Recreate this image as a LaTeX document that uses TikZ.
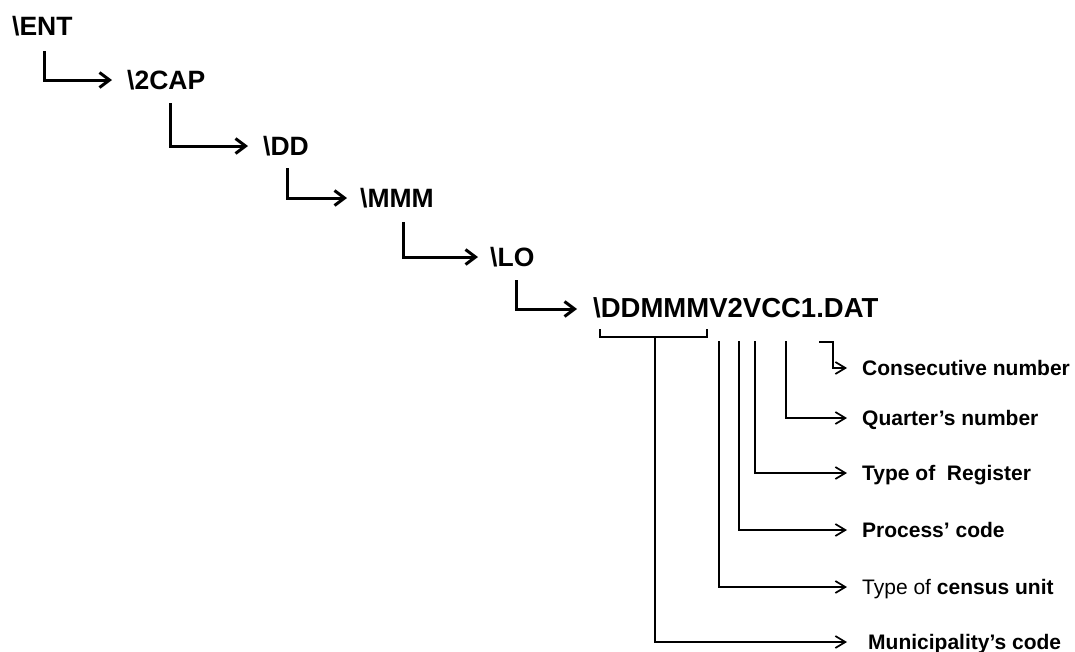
\documentclass[tikz,border=0pt]{standalone}
\usepackage{fontspec}
\setmainfont{Liberation Sans}
\usetikzlibrary{arrows.meta}
\begin{document}
\begin{tikzpicture}[x=1pt,y=-1pt,
  big/.style={font=\fontsize{26.5}{30}\selectfont\bfseries, inner sep=0pt, anchor=base west},
  fname/.style={font=\fontsize{27.5}{30}\selectfont\bfseries, inner sep=0pt, anchor=base west},
  lbl/.style={font=\fontsize{21}{25}\selectfont, inner sep=0pt, anchor=base west},
  toparr/.style={line width=3pt, -{Straight Barb[length=10pt,width=15pt]}},
  botarr/.style={line width=1.7pt, -{Straight Barb[length=10pt,width=12pt]}},
  bline/.style={line width=1.7pt}]
\useasboundingbox (0,0) rectangle (1075,651);
% top hierarchy
\node[big] (ent) at (12,35) {\textbackslash ENT};
\node[big] (cap) at (127,89.5) {\textbackslash 2CAP};
\node[big] (dd) at (263,155.5) {\textbackslash DD};
\node[big] (mmm) at (360,207.5) {\textbackslash MMM};
\node[big] (lo) at (490,266.5) {\textbackslash LO};
\node[fname] (file) at (593,317.8) {\textbackslash DDMMMV2VCC1.DAT};
\coordinate (a1s) at (44,51);  \coordinate (a1e) at (112,80);
\coordinate (a2s) at (170,103); \coordinate (a2e) at (248,146);
\coordinate (a3s) at (287,168); \coordinate (a3e) at (347,198);
\coordinate (a4s) at (403,222); \coordinate (a4e) at (478,257);
\coordinate (a5s) at (516,280); \coordinate (a5e) at (577,309);
\draw[toparr] (a1s) |- (a1e);
\draw[toparr] (a2s) |- (a2e);
\draw[toparr] (a3s) |- (a3e);
\draw[toparr] (a4s) |- (a4e);
\draw[toparr] (a5s) |- (a5e);
% brace under DDMMM
\coordinate (bl) at (600,329); \coordinate (br) at (707,329); \coordinate (bm) at (655,337);
\draw[bline] (bl) -- (600,337) -- (707,337) -- (br);
% label ends
\coordinate (tcons) at (847,368);
\coordinate (tquar) at (847,418);
\coordinate (treg) at (847,473);
\coordinate (tproc) at (847,530);
\coordinate (tcens) at (847,587);
\coordinate (tmun) at (847,642);
\coordinate (scons) at (819,342); \coordinate (kcons) at (833,342);
\coordinate (squar) at (786,341);
\coordinate (sreg) at (755,341);
\coordinate (sproc) at (739,341);
\coordinate (scens) at (719,341);
\draw[botarr] (scons) -- (kcons) |- (tcons);
\draw[botarr] (squar) |- (tquar);
\draw[botarr] (sreg) |- (treg);
\draw[botarr] (sproc) |- (tproc);
\draw[botarr] (scens) |- (tcens);
\draw[botarr] (bm) |- (tmun);
% labels
\node[lbl] (lcons) at (862,375.5) {\textbf{Consecutive number}};
\node[lbl] (lquar) at (862,425.5) {\textbf{Quarter’s number}};
\node[lbl] (lreg) at (862,480.5) {\textbf{Type of\ \ Register}};
\node[lbl] (lproc) at (862,537.5) {\textbf{Process’ code}};
\node[lbl] (lcens) at (862,594.5) {Type of \textbf{census unit}};
\node[lbl] (lmun) at (868,649) {\textbf{Municipality’s code}};
\end{tikzpicture}
\end{document}
